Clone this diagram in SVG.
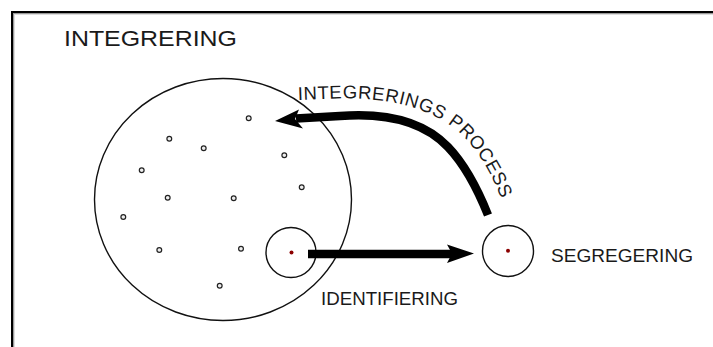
<svg xmlns="http://www.w3.org/2000/svg" width="713" height="347" viewBox="0 0 713 347">
<style>
.lbl{font-family:"Liberation Sans",Arial,sans-serif;fill:#1a1a1a}
.ring{fill:none;stroke:#111;stroke-width:1.4}
.dot{fill:#eee;stroke:#222;stroke-width:1.2}
.core{fill:#8b0000}
.shaft{fill:none;stroke:#000;stroke-width:8.5}
</style>
<defs>
<path id="arcText" d="M 298 100 L 340 98.5 Q 420 97 461 134 Q 490 162 507 215"/>
</defs>
<rect width="713" height="347" fill="#fff"/>
<g id="frame">
<line x1="11" y1="12" x2="713" y2="12" stroke="#000" stroke-width="2"/>
<line x1="12" y1="11" x2="12" y2="347" stroke="#000" stroke-width="2"/>
<line x1="13" y1="13.5" x2="713" y2="13.5" stroke="#999" stroke-width="1"/>
<line x1="13.5" y1="13" x2="13.5" y2="347" stroke="#999" stroke-width="1"/>
<line x1="14" y1="14.5" x2="713" y2="14.5" stroke="#ddd" stroke-width="1"/>
<line x1="14.5" y1="14" x2="14.5" y2="347" stroke="#ddd" stroke-width="1"/>
</g>
<text class="lbl" x="64" y="46" font-size="22" textLength="173" lengthAdjust="spacingAndGlyphs">INTEGRERING</text>
<g id="integrering">
<ellipse class="ring" cx="223" cy="199.5" rx="128.5" ry="121"/>
<circle class="dot" cx="248.7" cy="118.3" r="2.4"/>
<circle class="dot" cx="169.3" cy="138.7" r="2.4"/>
<circle class="dot" cx="203.7" cy="148.3" r="2.4"/>
<circle class="dot" cx="284.3" cy="155.3" r="2.4"/>
<circle class="dot" cx="141.7" cy="170.3" r="2.4"/>
<circle class="dot" cx="301.7" cy="187.3" r="2.4"/>
<circle class="dot" cx="167.7" cy="197.7" r="2.4"/>
<circle class="dot" cx="233.7" cy="198.3" r="2.4"/>
<circle class="dot" cx="123.3" cy="217" r="2.4"/>
<circle class="dot" cx="159.3" cy="250" r="2.4"/>
<circle class="dot" cx="241" cy="248.7" r="2.4"/>
<circle class="dot" cx="219.7" cy="285.7" r="2.4"/>
</g>
<g id="identifiering">
<circle class="ring" cx="291" cy="252.5" r="25"/>
<circle class="core" cx="291.5" cy="252.5" r="2"/>
<text class="lbl" x="321" y="305" font-size="18" textLength="137" lengthAdjust="spacingAndGlyphs">IDENTIFIERING</text>
</g>
<g id="segregering">
<circle class="ring" cx="508" cy="251" r="25.5"/>
<circle class="core" cx="508" cy="250.7" r="2"/>
<text class="lbl" x="551" y="262" font-size="18" textLength="142" lengthAdjust="spacingAndGlyphs">SEGREGERING</text>
</g>
<g id="connectors">
<line class="shaft" x1="308" y1="254" x2="452" y2="254"/>
<path d="M 474 253.5 L 447 244.5 L 452 253.5 L 447 263 Z" fill="#000"/>
<path class="shaft" stroke-linejoin="round" d="M 488 215 Q 470 170 448 147 Q 413 110.4 340 116 L 296 118.5"/>
<path d="M 275 121 L 299 109.5 L 295 119 L 303 128.5 Z" fill="#000"/>
<text class="lbl" font-size="18.5"><textPath href="#arcText" textLength="248" lengthAdjust="spacing">INTEGRERINGS PROCESS</textPath></text>
</g>
</svg>
